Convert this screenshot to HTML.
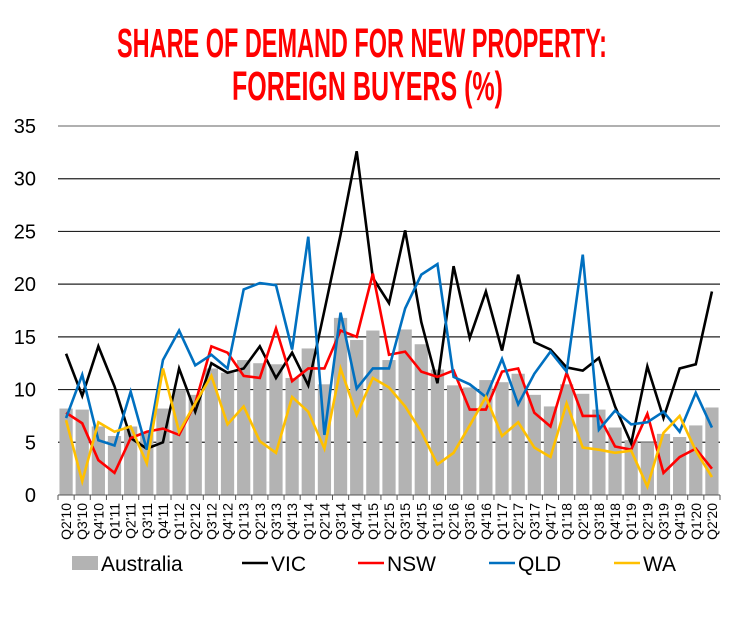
<!DOCTYPE html>
<html><head><meta charset="utf-8"><style>
body{margin:0;background:#fff;width:740px;height:639px;overflow:hidden;font-family:"Liberation Sans",sans-serif}
</style></head><body>
<svg id="c" width="740" height="639" style="position:absolute;left:0;top:0">
<text x="117" y="57" font-size="41" font-weight="bold" fill="#ff0000" textLength="490" lengthAdjust="spacingAndGlyphs" font-family="Liberation Sans, sans-serif">SHARE OF DEMAND FOR NEW PROPERTY:</text>
<text x="232" y="100" font-size="41" font-weight="bold" fill="#ff0000" textLength="271" lengthAdjust="spacingAndGlyphs" font-family="Liberation Sans, sans-serif">FOREIGN BUYERS (%)</text>
</svg>
<script>
const categories=["Q2'10","Q3'10","Q4'10","Q1'11","Q2'11","Q3'11","Q4'11","Q1'12","Q2'12","Q3'12","Q4'12","Q1'13","Q2'13","Q3'13","Q4'13","Q1'14","Q2'14","Q3'14","Q4'14","Q1'15","Q2'15","Q3'15","Q4'15","Q1'16","Q2'16","Q3'16","Q4'16","Q1'17","Q2'17","Q3'17","Q4'17","Q1'18","Q2'18","Q3'18","Q4'18","Q1'19","Q2'19","Q3'19","Q4'19","Q1'20","Q2'20"];
const australia=[8.2,8.1,6.5,5.6,6.5,6.0,8.2,10,9.5,12,11.6,12.8,12.5,12.4,11.1,13.9,10.5,16.8,14.7,15.6,12.8,15.7,14.3,11.9,10.4,10.2,10.9,10.7,11.5,9.5,8.4,10.5,9.6,8.1,6.4,5.2,5.0,5.8,5.5,6.6,8.3];
const vic=[13.4,9.4,14.1,10.3,5.4,4.4,5.0,12,7.9,12.5,11.6,12,14.1,11.1,13.5,10.4,17.5,24.7,32.6,20.6,18.2,25.1,16.4,10.6,21.7,14.9,19.3,13.7,20.9,14.5,13.8,12.1,11.8,13,8.4,4.9,12.2,7.3,12,12.4,19.3];
const nsw=[7.8,6.8,3.3,2.1,5.4,6.0,6.3,5.7,8.7,14.1,13.5,11.3,11.1,15.8,10.8,12,12,15.6,15,21,13.3,13.6,11.7,11.2,11.8,8.1,8.1,11.7,12,7.8,6.5,11.6,7.5,7.5,4.6,4.3,7.7,2.1,3.6,4.4,2.5];
const qld=[7.3,11.4,5.2,4.7,9.8,4.3,12.8,15.6,12.3,13.3,12,19.5,20.1,19.9,13.8,24.5,5.7,17.3,10.1,12,12,17.7,20.9,21.9,11.2,10.5,9.3,12.9,8.6,11.5,13.6,11.7,22.8,6.2,8,6.7,6.9,7.9,6,9.7,6.4];
const wa=[7.1,1.3,6.9,6,6.5,3,12,6,8.7,11.3,6.7,8.4,5.1,4,9.3,7.9,4.4,12,7.6,11.1,10.2,8.4,6,2.9,4,6.6,9.3,5.6,6.9,4.5,3.6,8.7,4.5,4.3,4,4.2,0.8,5.9,7.5,4.2,1.7];
const yTicks=[0,5,10,15,20,25,30,35];
const NS="http://www.w3.org/2000/svg",svg=document.getElementById('c');
const X0=58,X1=720,Y0=495,Y35=126;
const bw=(X1-X0)/categories.length;
const xs=i=>X0+bw*(i+0.5);
const ys=v=>Y0-(v/35)*(Y0-Y35);
function mk(t,a){const e=document.createElementNS(NS,t);for(const k in a)e.setAttribute(k,a[k]);svg.appendChild(e);return e;}
yTicks.forEach(v=>{
 if(v>0){const g=mk('line',{x1:X0,x2:X1,y1:ys(v),y2:ys(v),stroke:v==35?'#808080':'#222','stroke-width':1.2});
 
 }
 const t=mk('text',{x:36,y:ys(v)+7,'text-anchor':'end','font-size':20,fill:'#000'});t.textContent=v;
 
 
});
australia.forEach((v,i)=>{const r=mk('rect',{x:xs(i)-bw*0.41,y:ys(v),width:bw*0.82,height:Y0-ys(v),fill:'#b3b3b3'});
 
 });
const ax=mk('line',{x1:X0,x2:X1,y1:Y0,y2:Y0,stroke:'#555','stroke-width':1});


for(let i=0;i<=categories.length;i++){const tk=mk('line',{x1:X0+bw*i,x2:X0+bw*i,y1:Y0,y2:Y0+5,stroke:'#555'});
 
 }
categories.forEach((c,i)=>{const t=mk('text',{transform:`translate(${xs(i)+5},503) rotate(-90)`,'text-anchor':'end','font-size':14,fill:'#000'});t.textContent=c;
 
 });
[[vic,'#000','vic'],[nsw,'#ff0000','nsw'],[qld,'#0070c0','qld'],[wa,'#ffc000','wa']].forEach(([d,col,n])=>{
 const p=mk('polyline',{points:d.map((v,i)=>xs(i)+','+ys(v)).join(' '),fill:'none',stroke:col,'stroke-width':2.6,'stroke-linejoin':'miter'});
 
 
});
const leg=[['Australia',72,'bar','#b3b3b3'],['VIC',242,'line','#000'],['NSW',358,'line','#ff0000'],['QLD',489,'line','#0070c0'],['WA',614,'line','#ffc000']];
leg.forEach(([n,x,t,col])=>{
 let s;
 if(t=='bar')s=mk('rect',{x:x,y:556,width:26,height:14,fill:col});
 else s=mk('line',{x1:x,x2:x+26,y1:563,y2:563,stroke:col,'stroke-width':2.6});
 
 
 const tx=mk('text',{x:x+29,y:571,'font-size':21,fill:'#000'});tx.textContent=n;
 
 
});
</script>
</body></html>
